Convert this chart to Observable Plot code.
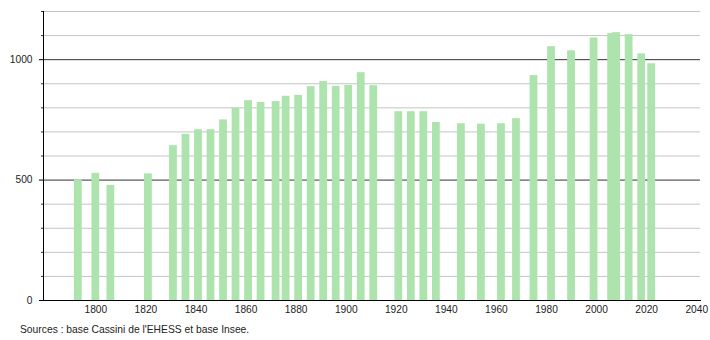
<!DOCTYPE html>
<html>
<head>
<meta charset="utf-8">
<script src="https://cdn.jsdelivr.net/npm/d3@7"></script>
<script src="https://cdn.jsdelivr.net/npm/@observablehq/plot@0.6"></script>
<style>
  body { margin: 0; background: #fff; font-family: "Liberation Sans", Arial, sans-serif; }
  #wrap { position: relative; width: 710px; height: 340px; }
  #caption { position: absolute; left: 20px; top: 324px; font-size: 10.3px; line-height: 12px; color: #222; white-space: nowrap; }
</style>
</head>
<body>
<div id="wrap">
  <div id="chart"></div>
  <div id="caption">Sources : base Cassini de l'EHESS et base Insee.</div>
</div>
<script>
const years = [1793,1800,1806,1821,1831,1836,1841,1846,1851,1856,1861,1866,1872,1876,1881,1886,1891,1896,1901,1906,1911,1921,1926,1931,1936,1946,1954,1962,1968,1975,1982,1990,1999,2006,2008,2013,2018,2022];
const population = [502,528,478,526,643,690,709,709,750,798,830,822,826,848,852,888,909,889,893,946,892,784,784,784,739,734,732,734,755,934,1054,1037,1090,1108,1112,1104,1024,983];
const xTicks = [1800,1820,1840,1860,1880,1900,1920,1940,1960,1980,2000,2020,2040];
const yMajorTicks = [0,500,1000];
const yMinorTicks = [100,200,300,400,600,700,800,900,1100,1200];

const data = years.map((y, i) => ({year: y, pop: population[i]}));
const half = 1.55;

const chart = Plot.plot({
  width: 710,
  height: 318,
  marginLeft: 43,
  marginRight: 10,
  marginTop: 11,
  marginBottom: 18,
  style: {fontFamily: '"Liberation Sans", Arial, sans-serif', fontSize: "10.2px", color: "#222", background: "#fff"},
  x: {domain: [1779.1, 2041.5]},
  y: {domain: [0, 1200]},
  marks: [
    Plot.ruleY(yMinorTicks, {stroke: "#c4c4c4", strokeWidth: 1}),
    Plot.ruleY([500, 1000], {stroke: "#333", strokeWidth: 1}),
    Plot.rectY(data, {x1: d => d.year - half, x2: d => d.year + half, y: "pop", fill: "#ade3ad"}),
    Plot.axisY(yMinorTicks, {tickSize: 2, text: null, label: null, stroke: "#333"}),
    Plot.axisY(yMajorTicks, {tickSize: 4, tickPadding: 7, label: null, stroke: "#000", tickFormat: d => String(d)}),
    Plot.axisX(xTicks, {tickSize: 0, tickPadding: 5, label: null, tickFormat: d => String(d)}),
    Plot.frame({anchor: "left", stroke: "#000"}),
    Plot.frame({anchor: "bottom", stroke: "#000"})
  ]
});
document.getElementById("chart").appendChild(chart);
</script>
</body>
</html>
